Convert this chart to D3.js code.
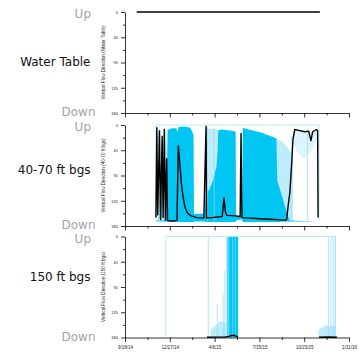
<!DOCTYPE html>
<html>
<head>
<meta charset="utf-8">
<script src="https://cdn.jsdelivr.net/npm/d3@7"></script>
<style>
  body { margin: 0; background: #fff; }
  svg { display: block; }
</style>
</head>
<body>
<div class="graphic"></div>
<script>
// ---- data ----
const xTickDates = ["2014-09-18", "2014-12-27", "2015-04-06", "2015-07-15", "2015-10-23", "2016-01-31"];
const yTicks = [0, 45, 90, 135, 180];

const panelNames = ["Water Table", "40-70 ft bgs", "150 ft bgs"];
const axisTitles = [
  "Vertical Flow Direction (Water Table)",
  "Vertical Flow Direction (40-70 ft bgs)",
  "Vertical Flow Direction (150 ft bgs)"
];

// Water Table: daily direction (black)
const wtDates = ["2014-10-14", "2015-01-20", "2015-05-01", "2015-08-10", "2015-11-27"];
const wtValues = [0, 0, 0, 0, 0];

// 40-70 ft bgs: daily direction (black)
const midDates = ["2014-11-26","2014-11-28","2014-11-30","2014-12-04","2014-12-06","2014-12-10","2014-12-12","2014-12-15","2014-12-17","2014-12-20","2014-12-22","2015-01-01","2015-01-12","2015-01-15","2015-01-19","2015-01-22","2015-01-26","2015-01-30","2015-02-04","2015-02-10","2015-02-25","2015-03-13","2015-03-18","2015-03-19","2015-03-31","2015-04-13","2015-04-23","2015-04-27","2015-04-30","2015-05-03","2015-05-21","2015-06-02","2015-06-04","2015-06-06","2015-06-24","2015-07-16","2015-08-07","2015-08-30","2015-09-10","2015-09-14","2015-09-17","2015-09-21","2015-09-25","2015-09-28","2015-10-02","2015-10-13","2015-10-24","2015-11-02","2015-11-07","2015-11-11","2015-11-19","2015-11-22","2015-11-23"];
const midValues = [165,5,160,10,168,20,165,8,170,60,170,171,170,37,75,106,130,147,156,161,165,166,2,166,165,164,163,130,155,161,162,163,15,165,166,167,168,169,170,168,145,120,70,25,8,10,12,11,28,12,8,10,165];

// 40-70 ft bgs: hourly readings, dense envelope (cyan)
const midBandDates = ["2014-11-26","2014-12-06","2014-12-08","2014-12-10","2014-12-17","2014-12-19","2014-12-20","2014-12-22","2015-01-01","2015-01-10","2015-01-13","2015-01-16","2015-02-01","2015-02-10","2015-02-14","2015-02-18","2015-02-19","2015-03-14","2015-03-17","2015-03-25","2015-04-02","2015-04-10","2015-04-13","2015-04-14","2015-04-20","2015-05-01","2015-05-10","2015-05-20","2015-05-23","2015-05-24","2015-06-06","2015-06-08","2015-06-20","2015-07-01","2015-07-20","2015-08-10","2015-08-16","2015-08-22","2015-08-24","2015-08-28","2015-09-03","2015-09-10","2015-09-16","2015-09-20","2015-11-25"];
const midBandTop = [170,170,20,170,170,15,120,9,6,6,12,3,3,5,10,18,158,158,125,115,100,75,45,10,8,9,10,11,13,160,165,5,8,10,14,20,22,24,100,110,125,145,160,170,172];
const midBandBottom = [172,172,172,172,172,172,172,173,173,173,173,173,173,173,173,173,172,172,173,173,173,173,173,173,173,173,173,173,173,170,168,173,173,173,173,173,173,173,173,173,172,172,172,172,172];

// 40-70 ft bgs: sparse readings (light cyan), null = gap
const midLightDates = ["2015-03-15","2015-03-28","2015-04-14", null, "2015-08-20","2015-09-05","2015-09-20","2015-09-28"];
const midLightTop = [8,6,8, null, 25,30,45,60];
const midLightBottom = [172,172,172, null, 172,172,172,172];

// 40-70 ft bgs: very sparse readings under the upward run
const midFaintDates = ["2015-09-28","2015-10-05","2015-10-20","2015-11-05","2015-11-18","2015-11-22"];
const midFaintTop = [12,10,9,12,10,10];
const midFaintBottom = [30,45,60,50,30,15];

// 40-70 ft bgs: isolated readings (thin cyan strokes)
const midSpikeDates = ["2014-11-28","2014-12-02","2014-12-13","2015-03-21","2015-04-05","2015-09-24","2015-10-30"];
const midSpikeTop = [5,12,6,4,6,20,8];

// 40-70 ft bgs: first/last readings frame
const midFrameDates = ["2014-11-26","2014-11-26","2015-11-25","2015-11-25"];
const midFrameValues = [168,0,0,170];

// 150 ft bgs: daily direction (black), null = gap
const deepDates = ["2015-03-20","2015-04-10","2015-04-30","2015-05-08","2015-05-14","2015-05-20","2015-05-25","2015-05-28", null, "2015-11-25","2015-12-15","2016-01-04"];
const deepValues = [179.5,179.3,179,178,176.5,176,178,179.5, null, 179.5,179,179.5];

// 150 ft bgs: hourly readings
const deepBandDates = ["2015-05-09","2015-05-15", null, "2015-05-17","2015-05-21", null, "2015-05-23","2015-05-28"];
const deepBandTop = [1,1, null, 1,1, null, 1,1];
const deepBandBottom = [180,180, null, 180,180, null, 180,180];

const deepMidDates = ["2015-05-03","2015-05-29"];
const deepMidTop = [1,1];
const deepMidBottom = [180,180];

const deepLightDates = ["2015-03-28","2015-04-20","2015-05-03", null, "2015-11-24","2015-12-10","2016-01-01"];
const deepLightTop = [166,150,155, null, 166,158,160];
const deepLightBottom = [180,180,180, null, 180,180,180];

const deepSpikeDates = ["2015-03-23","2015-04-12","2015-04-25","2015-04-29","2015-12-16","2015-12-22","2015-12-27","2015-12-31"];
const deepSpikeTop = [0,120,100,60,0,0,0,0];

const deepFrameDates = ["2014-12-18","2014-12-18","2016-01-01","2016-01-01"];
const deepFrameValues = [180,0,0,180];

// ---- layout ----
const W = 359, H = 355;
const panelTops = [12, 125, 236.5];
const panelH = 101;
const nameY = [62, 170, 277];
const left = 125, right = 349;

const parse = d3.timeParse("%Y-%m-%d");
const fmt = d3.timeFormat("%-m/%-d/%y");

const svg = d3.select(".graphic")
  .append("svg")
  .attr("width", W)
  .attr("height", H)
  .attr("viewBox", `0 0 ${W} ${H}`);

const xTicks = xTickDates.map(parse);
const x = d3.scaleTime()
  .domain([xTicks[0], xTicks[xTicks.length - 1]])
  .range([left, right]);

const xMinor = d3.pairs(xTicks).map(([a, b]) => new Date((+a + +b) / 2));
const yMinor = d3.pairs(yTicks).map(([a, b]) => (a + b) / 2);

const rows = (dates, ...cols) => dates.map((d, i) =>
  d === null ? null : { date: parse(d), v: cols.map(c => c[i]) });

const CYAN = "#00c6f4";
const LIGHT = "#bdecfb";
const FAINT = "#dcf5fd";
const MID = "#5fd3f6";

const panels = [
  { black: rows(wtDates, wtValues) },
  {
    frame: rows(midFrameDates, midFrameValues),
    bands: [
      { data: rows(midFaintDates, midFaintTop, midFaintBottom), color: FAINT },
      { data: rows(midLightDates, midLightTop, midLightBottom), color: LIGHT },
      { data: rows(midBandDates, midBandTop, midBandBottom), color: CYAN }
    ],
    spikes: rows(midSpikeDates, midSpikeTop), spikeBottom: 172,
    black: rows(midDates, midValues)
  },
  {
    frame: rows(deepFrameDates, deepFrameValues),
    bands: [
      { data: rows(deepLightDates, deepLightTop, deepLightBottom), color: LIGHT },
      { data: rows(deepMidDates, deepMidTop, deepMidBottom), color: MID },
      { data: rows(deepBandDates, deepBandTop, deepBandBottom), color: CYAN }
    ],
    spikes: rows(deepSpikeDates, deepSpikeTop), spikeBottom: 180,
    black: rows(deepDates, deepValues)
  }
];

panels.forEach((p, i) => {
  const top = panelTops[i];
  const y = d3.scaleLinear().domain([0, 180]).range([top, top + panelH]);
  const g = svg.append("g");

  if (p.frame) {
    g.append("path")
      .datum(p.frame)
      .attr("fill", "none")
      .attr("stroke", "#a9e6f8")
      .attr("stroke-width", 0.8)
      .attr("d", d3.line().x(d => x(d.date)).y(d => y(d.v[0])));
  }

  (p.bands || []).forEach(b => {
    g.append("path")
      .datum(b.data)
      .attr("fill", b.color)
      .attr("d", d3.area()
        .defined(d => d !== null)
        .x(d => x(d.date))
        .y0(d => y(d.v[1]))
        .y1(d => y(d.v[0])));
  });

  if (p.spikes) {
    g.selectAll(".spike")
      .data(p.spikes)
      .join("line")
        .attr("x1", d => x(d.date))
        .attr("x2", d => x(d.date))
        .attr("y1", d => y(d.v[0]))
        .attr("y2", y(p.spikeBottom))
        .attr("stroke", "#8fdcf6")
        .attr("stroke-width", 0.7);
  }

  g.append("path")
    .datum(p.black)
    .attr("fill", "none")
    .attr("stroke", "#000")
    .attr("stroke-width", 1.4)
    .attr("stroke-linejoin", "round")
    .attr("d", d3.line()
      .defined(d => d !== null)
      .x(d => x(d.date))
      .y(d => y(d.v[0])));

  // y axis
  const ya = g.append("g")
    .attr("transform", `translate(${left},0)`)
    .call(d3.axisLeft(y).tickValues(yTicks).tickSize(4).tickPadding(3).tickSizeOuter(0));
  g.append("g")
    .attr("transform", `translate(${left},0)`)
    .call(d3.axisLeft(y).tickValues(yMinor).tickSize(2).tickFormat("").tickSizeOuter(0))
    .select(".domain").remove();
  ya.selectAll("text")
    .attr("font-family", "Liberation Sans, Arial, sans-serif")
    .attr("font-size", 4)
    .attr("fill", "#222");

  // x axis
  const xa = g.append("g")
    .attr("transform", `translate(0,${top + panelH})`)
    .call(d3.axisBottom(x).tickValues(xTicks).tickSize(4.5).tickPadding(4).tickSizeOuter(0)
      .tickFormat(i === 2 ? fmt : ""));
  g.append("g")
    .attr("transform", `translate(0,${top + panelH})`)
    .call(d3.axisBottom(x).tickValues(xMinor).tickSize(2.5).tickFormat("").tickSizeOuter(0))
    .select(".domain").remove();
  xa.selectAll("text")
    .attr("font-family", "Liberation Sans, Arial, sans-serif")
    .attr("font-size", 4.5)
    .attr("fill", "#222");

  svg.selectAll(".tick line, .domain").attr("stroke", "#000").attr("stroke-width", 0.8);

  // axis title
  g.append("text")
    .attr("transform", `translate(104.5,${top + panelH / 2}) rotate(-90)`)
    .attr("text-anchor", "middle")
    .attr("font-family", "Liberation Sans, Arial, sans-serif")
    .attr("font-size", 4.6)
    .attr("fill", "#222")
    .text(axisTitles[i]);

  // side labels
  g.append("text")
    .attr("x", 91).attr("y", top + 6)
    .attr("text-anchor", "end")
    .attr("font-family", "DejaVu Sans, sans-serif")
    .attr("font-size", 12)
    .attr("fill", "#a3a3a3")
    .text("Up");
  g.append("text")
    .attr("x", 95.5).attr("y", top + panelH + 3.4)
    .attr("text-anchor", "end")
    .attr("font-family", "DejaVu Sans, sans-serif")
    .attr("font-size", 12)
    .attr("fill", "#a3a3a3")
    .text("Down");
  g.append("text")
    .attr("x", 90.5).attr("y", nameY[i] + 4.3)
    .attr("text-anchor", "end")
    .attr("font-family", "DejaVu Sans, sans-serif")
    .attr("font-size", 12)
    .attr("fill", "#111")
    .text(panelNames[i]);
});
</script>
</body>
</html>
